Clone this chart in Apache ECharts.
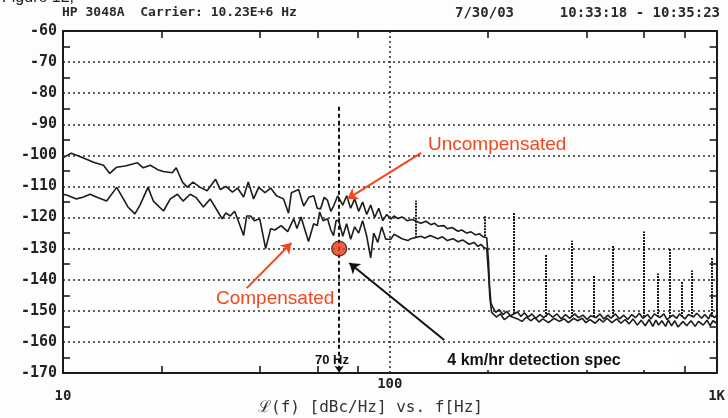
<!DOCTYPE html>
<html>
<head>
<meta charset="utf-8">
<script src="https://cdn.jsdelivr.net/npm/echarts@6/dist/echarts.min.js"></script>
<style>
html, body { margin: 0; padding: 0; background: #fdfdfd; }
#chart { width: 728px; height: 418px; }
</style>
</head>
<body>
<div id="chart"></div>
<script>
// phase noise, dBc/Hz vs offset frequency (Hz)
const uncompensated = [
  [10, -100.8], [10.3, -100], [10.6, -99.3], [11.0, -100], [11.5, -100.8], [12.4, -102.2], [13.3, -103.2],
  [13.9, -105.8], [14.6, -103.8], [15.5, -103.4], [16.9, -102.4], [17.6, -104], [18.5, -103.2], [19.5, -104.6],
  [20.3, -105.2], [21.6, -105.6], [22.2, -104], [23.2, -108.6], [24.0, -110.2], [25.0, -108.6], [26.3, -110.3],
  [27.6, -111.4], [29.3, -107.7], [30.3, -111], [31.5, -110], [33.0, -111.8], [34.2, -110.5], [35.7, -113.4],
  [36.9, -108.6], [38.3, -114], [39.7, -110.3], [41.5, -112], [43.2, -110.5], [45.0, -113], [47.3, -114],
  [49.0, -118.6], [50.0, -112], [52.6, -111], [54.5, -116.3], [56.5, -113.5], [58.5, -113], [60.0, -117],
  [61.4, -117.2], [63.0, -113.5], [64.5, -114.5], [66.0, -118], [67.3, -116.3], [69.3, -113],
  [71.8, -116], [73.8, -113], [75.9, -117], [78.1, -114], [80.3, -118], [82.6, -115], [85.0, -119],
  [87.4, -116], [89.9, -120], [92.5, -117], [95.2, -121], [97.9, -119], [100.7, -120.5],
  [103, -119.5], [105.8, -120.3], [109, -119.8], [113, -121], [117, -120.6], [124.5, -121.8], [129, -121.2],
  [133.6, -122.3], [137, -121.8], [140.4, -122.8], [146.4, -122.6], [150, -123.6], [155, -123.2], [161.7, -124.4],
  [166, -124], [172, -125], [177.3, -124.6], [183, -125.6], [188, -125.2], [193, -126.2], [198, -126.5],
  [200.5, -134], [202, -142], [204, -147.5], [207, -149],
  [211, -150.5], [216, -149.6], [222, -151.2], [228, -150.2], [234, -151.6], [246, -150.4], [252, -151.8],
  [258, -150.6], [265, -152], [272, -151], [280, -152.4], [288, -151.2], [296, -152.2], [306, -150.8],
  [315, -152], [325, -151], [335, -152.6], [345, -151.2], [355, -152.4], [368, -151], [378, -152.2],
  [390, -151.4], [402, -152.8], [412, -151.6], [428, -152.2], [440, -151], [452, -152.6], [465, -151.4],
  [475, -152.4], [490, -151], [505, -152.6], [520, -151.4], [535, -152.8], [550, -151.2], [565, -152.2],
  [580, -150.8], [595, -152.4], [615, -151.2], [630, -152.6], [645, -151], [670, -152.2], [690, -151],
  [705, -152.8], [735, -151.4], [755, -152.4], [770, -151], [800, -152.6], [820, -151.2], [850, -152],
  [870, -150.8], [900, -152.4], [920, -151.2], [945, -152.6], [960, -151], [985, -152.2], [1000, -151.4]
];

const compensated = [
  [10, -112.5], [10.3, -112.8], [11.0, -114], [11.5, -113.5], [12.1, -112.5], [12.7, -113.5], [13.6, -114.7],
  [14.6, -110.3], [15.3, -114], [15.8, -116.6], [16.6, -118.8], [17.2, -116], [18.2, -110.3], [18.9, -114.7],
  [20.3, -117.9], [21.3, -114], [22.4, -112.5], [23.3, -114.7], [24.5, -112.5], [25.5, -113.5], [26.9, -116.6],
  [28.2, -114], [29.7, -117.9], [30.7, -120.4], [31.5, -118.5], [32.5, -119.5], [33.5, -118], [34.2, -120.4],
  [35.7, -125.8], [36.5, -119.5], [37.5, -119.5], [38.5, -121], [40, -120.4], [41.7, -130], [43.2, -123.6],
  [44.5, -124], [46.5, -122.6], [48.7, -124.5], [50.8, -120.4], [52, -123.5], [53.5, -119.8], [55, -124],
  [56.4, -127.7], [58.5, -122], [60, -122.6], [61, -118.2], [62.5, -121], [64.5, -120.4], [66, -124],
  [67.3, -125.8], [68.5, -121],
  [69.8, -121], [71.8, -126], [73.8, -122], [75.9, -127], [78.1, -123], [80.3, -125], [82.6, -121],
  [85.0, -126], [87.4, -133], [89.3, -125], [91.9, -128], [94.5, -123], [97.2, -127], [100.7, -127],
  [103, -125.4], [105.8, -126], [109, -126.8], [113.6, -127.4], [116, -126.8], [124.5, -126], [128, -126.6],
  [133, -125.8], [140.4, -126.8], [145, -126.2], [150, -127.4], [156, -126.8], [161.7, -127.8], [167, -127.2],
  [175, -128.6], [181, -128], [186.2, -129.3], [190, -128.6], [194, -129.6], [198, -130],
  [200.5, -138], [202.5, -146], [205, -150.5],
  [212, -152], [218, -151], [224, -152.8], [232, -151.6], [246, -152.6], [254, -153.4], [262, -152],
  [270, -153.2], [278, -152.2], [286, -153.6], [294, -152.6], [306, -153.8], [318, -152.4], [330, -153.4],
  [342, -152.6], [352, -153.8], [365, -152.4], [376, -153.2], [388, -152.4], [398, -153.8], [410, -152.8],
  [425, -154], [438, -152.6], [450, -153.6], [462, -152.4], [478, -153.8], [495, -152.6], [510, -154],
  [525, -152.8], [540, -154.2], [555, -152.6], [572, -154.6], [588, -153], [605, -154.8], [622, -152.8],
  [638, -155], [652, -153], [665, -154.6], [680, -153.2], [698, -155], [712, -153], [728, -154.8],
  [745, -153.2], [762, -155.2], [790, -153.4], [810, -154.8], [835, -153.2], [860, -155], [880, -153.4],
  [910, -154.6], [935, -153], [955, -154.8], [975, -153.2], [1000, -154]
];

// discrete spurs (dotted on the plot)
const spurFreq = [120, 195, 240, 300, 360, 420, 480, 600, 660, 720, 780, 840, 970];
const spurBase = [-126.5, -126, -151, -152, -152, -152, -152, -152, -152, -152, -152, -152, -152];
const spurPeak = [-114.5, -119.5, -118.5, -132, -127.5, -138.5, -129, -124.5, -138, -130, -140.5, -137, -133];

const xMinorTicks = [20, 40, 60, 80, 200, 400, 600, 800];
const yMinorTicks = [-65, -75, -85, -95, -105, -115, -125, -135, -145, -155, -165];
const yGridLines = [-70, -80, -90, -100, -110, -120, -130, -140, -150, -160];
const xGridLines = [100];
const specFreq = 70;
const specLevel = -130;

const red = '#f0481c';
const ink = '#1c1c1c';
const gridStyle = { color: '#2a2a2a', width: 1.5, type: [2, 3] };
const tickStyle = { show: true, inside: true, length: 7, lineStyle: { color: ink, width: 1.6 } };

const chart = echarts.init(document.getElementById('chart'));

const spurLines = spurFreq.map((f, i) => [
  { coord: [f, spurBase[i]] },
  { coord: [f, spurPeak[i]] }
]);

const gridLines = yGridLines.map(v => ({ yAxis: v })).concat(xGridLines.map(f => ({ xAxis: f })));

const option = {
  animation: false,
  backgroundColor: '#fdfdfd',
  grid: { left: 63, right: 10, top: 31, bottom: 45 },
  xAxis: [
    {
      type: 'log',
      logBase: 10,
      min: 10,
      max: 1000,
      axisLine: { show: true, lineStyle: { color: ink, width: 2 } },
      axisTick: Object.assign({ customValues: xMinorTicks }, tickStyle),
      splitLine: { show: false },
      axisLabel: {
        margin: 4,
        color: '#222',
        fontFamily: 'DejaVu Sans Mono',
        fontWeight: 'bold',
        fontSize: 14,
        formatter: v => v === 10 ? '{low|10}' : v === 1000 ? '{low|1K}' : String(v),
        rich: {
          low: { padding: [12, 0, 0, 0], fontFamily: 'DejaVu Sans Mono', fontWeight: 'bold', fontSize: 14, color: '#222' }
        }
      }
    },
    {
      type: 'log',
      logBase: 10,
      min: 10,
      max: 1000,
      position: 'top',
      axisLine: { show: true, lineStyle: { color: ink, width: 2 } },
      axisTick: Object.assign({ customValues: xMinorTicks }, tickStyle),
      axisLabel: { show: false },
      splitLine: { show: false }
    }
  ],
  yAxis: [
    {
      type: 'value',
      min: -170,
      max: -60,
      interval: 10,
      axisLine: { show: true, lineStyle: { color: ink, width: 2 } },
      axisTick: Object.assign({ customValues: yMinorTicks }, tickStyle),
      splitLine: { show: false },
      axisLabel: {
        margin: 6,
        color: '#222',
        fontFamily: 'DejaVu Sans Mono',
        fontWeight: 'bold',
        fontSize: 15
      }
    },
    {
      type: 'value',
      min: -170,
      max: -60,
      interval: 10,
      position: 'right',
      axisLine: { show: true, lineStyle: { color: ink, width: 2 } },
      axisTick: Object.assign({ customValues: yMinorTicks }, tickStyle),
      axisLabel: { show: false },
      splitLine: { show: false }
    }
  ],
  series: [
    {
      name: 'grid',
      type: 'line',
      data: [],
      z: 1,
      markLine: {
        silent: true,
        symbol: 'none',
        label: { show: false },
        lineStyle: gridStyle,
        data: gridLines
      }
    },
    {
      name: 'Uncompensated',
      type: 'line',
      data: uncompensated,
      showSymbol: false,
      lineStyle: { color: ink, width: 1.6 },
      z: 3
    },
    {
      name: 'Compensated',
      type: 'line',
      data: compensated,
      showSymbol: false,
      lineStyle: { color: ink, width: 1.6 },
      z: 3
    },
    {
      name: 'spurs',
      type: 'line',
      data: [],
      markLine: {
        silent: true,
        symbol: 'none',
        label: { show: false },
        lineStyle: { color: '#1a1a1a', width: 2, type: [2, 1] },
        data: spurLines
      }
    },
    {
      name: 'spec',
      type: 'scatter',
      data: [[specFreq, specLevel]],
      symbolSize: 15,
      itemStyle: { color: '#e63a12', borderColor: '#222', borderWidth: 1.2 },
      z: 5
    },
    {
      name: 'annotations',
      type: 'line',
      data: [],
      z: 6,
      markLine: {
        silent: true,
        label: { show: false },
        data: [
          [
            { coord: [specFreq, -84.4], symbol: 'none', lineStyle: { color: '#111', width: 2, type: [4, 3] } },
            { coord: [specFreq, -169.95], symbol: 'arrow', symbolSize: 7 }
          ],
          [
            { coord: [124.8, -99.2], symbol: 'none', lineStyle: { color: red, width: 2, type: 'solid' } },
            { coord: [74.2, -114.0], symbol: 'arrow', symbolSize: 10 }
          ],
          [
            { coord: [36.5, -142.7], symbol: 'none', lineStyle: { color: red, width: 2, type: 'solid' } },
            { coord: [50.0, -128.2], symbol: 'arrow', symbolSize: 10 }
          ],
          [
            { coord: [146.7, -159.4], symbol: 'none', lineStyle: { color: '#111', width: 2, type: 'solid' } },
            { coord: [75.2, -134.6], symbol: 'arrow', symbolSize: 10 }
          ]
        ]
      }
    }
  ],
  graphic: [
    { type: 'text', x: 2, y: -10, z: 100, style: { text: 'Figure 12,', font: '16px "Liberation Sans"', fill: '#222' } },
    { type: 'text', x: 62, y: 13, z: 100, style: { text: 'HP 3048A  Carrier: 10.23E+6 Hz', font: 'bold 13px "DejaVu Sans Mono"', fill: '#2a2a2a', verticalAlign: 'middle' } },
    { type: 'text', x: 455, y: 13, z: 100, style: { text: '7/30/03', font: 'bold 14px "DejaVu Sans Mono"', fill: '#2a2a2a', verticalAlign: 'middle' } },
    { type: 'text', x: 720, y: 13, z: 100, style: { text: '10:33:18 - 10:35:23', font: 'bold 14px "DejaVu Sans Mono"', fill: '#2a2a2a', align: 'right', verticalAlign: 'middle' } },
    { type: 'text', x: 258, y: 408, z: 100, style: { text: 'ℒ(f) [dBc/Hz] vs. f[Hz]', font: '16px "DejaVu Sans Mono"', fill: '#333', verticalAlign: 'middle' } },
    { type: 'rect', z: 90, shape: { x: 393, y: 352, width: 285, height: 18 }, style: { fill: '#ffffff' } },
    { type: 'text', x: 534, y: 361, z: 100, style: { text: '4 km/hr detection spec', font: 'bold 16px "Liberation Sans"', fill: '#111', align: 'center', verticalAlign: 'middle' } },
    { type: 'text', x: 332, y: 360, z: 100, style: { text: '70 Hz', font: 'bold 13px "Liberation Sans"', fill: '#111', align: 'center', verticalAlign: 'middle' } },
    { type: 'text', x: 428, y: 145, z: 100, style: { text: 'Uncompensated', font: '19px "Liberation Sans"', fill: red, verticalAlign: 'middle' } },
    { type: 'text', x: 216, y: 299, z: 100, style: { text: 'Compensated', font: '19px "Liberation Sans"', fill: red, verticalAlign: 'middle' } }
  ]
};

chart.setOption(option);
window.addEventListener('resize', () => chart.resize());
</script>
</body>
</html>
